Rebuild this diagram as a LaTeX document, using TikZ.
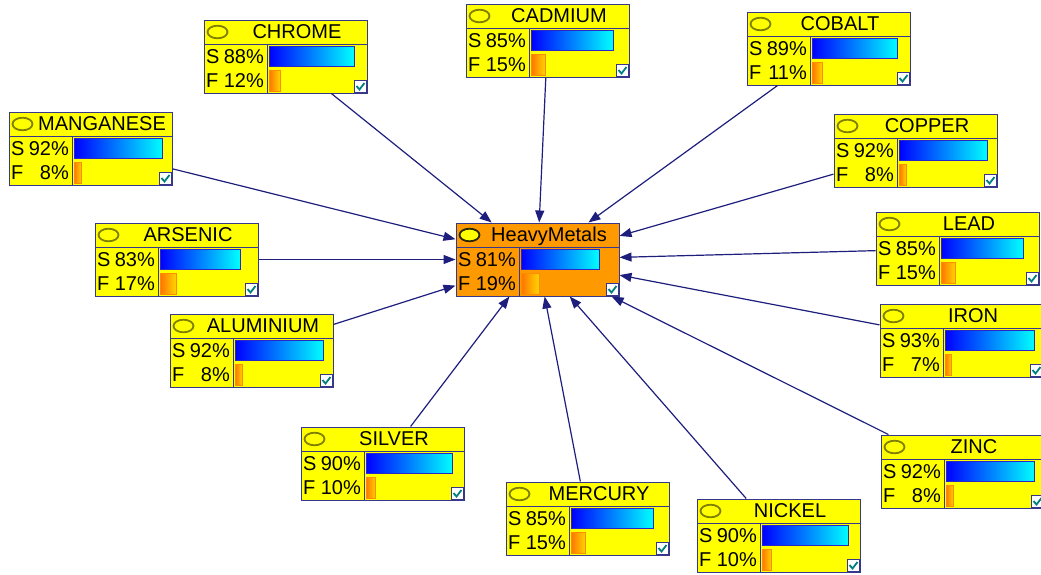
\documentclass[tikz,border=0pt]{standalone}
\usepackage{fontspec}
\setmainfont{Liberation Sans}
\usetikzlibrary{arrows.meta,calc}
\definecolor{navyl}{RGB}{30,30,125}
\definecolor{bord}{RGB}{55,55,140}
\definecolor{hmfill}{RGB}{255,153,0}
\definecolor{ylw}{RGB}{255,255,0}
\definecolor{olv}{RGB}{128,128,0}
\definecolor{fbl}{RGB}{255,115,0}
\definecolor{fbr}{RGB}{255,215,0}
\definecolor{sbb}{RGB}{40,40,200}
\definecolor{fbb}{RGB}{255,140,0}
\definecolor{chk}{RGB}{0,128,128}
\tikzset{
  box/.style={draw=bord, line width=1pt, rectangle, minimum width=163pt, minimum height=73pt, inner sep=0pt},
  arr/.style={draw=navyl, line width=1.2pt, -{Triangle[length=12pt,width=9pt]}},
  lbl/.style={inner sep=0pt, text=black},
}
\newcommand\bnode[8]{%
  \begin{scope}[shift={(#2,#3)}]
    \node[box,fill=#7] (#1) at (81.5,36.5) {};
    \draw[bord, line width=1pt] (0,24) -- (163,24) (63,24) -- (63,73);
    \draw[#8, fill=ylw, line width=1.8pt] (13.5,12) ellipse (10 and 6.3);
    \node[lbl, anchor=base] at (93,18.5) {#4};
    \node[lbl, anchor=base west] at (2,43) {S};
    \node[lbl, anchor=base east] at (60,43) {#5\%};
    \node[lbl, anchor=base west] at (2,67.5) {F};
    \node[lbl, anchor=base east] at (60,67.5) {#6\%};
    \pgfmathsetmacro\sw{65+0.965*#5}
    \pgfmathsetmacro\fw{65+0.965*#6}
    \shade[left color=blue, right color=cyan] (65,26) rectangle (\sw,46);
    \draw[sbb, line width=0.8pt] (65,26) rectangle (\sw,46);
    \shade[left color=fbl, right color=fbr] (65,50) rectangle (\fw,71);
    \draw[fbb, line width=0.8pt] (65,50) rectangle (\fw,71);
    \draw[bord, fill=white, line width=1pt] (150,60.5) rectangle (162.5,72.5);
    \draw[chk, line width=1.8pt] (152.5,66) -- (155.5,69.5) -- (160.5,63);
  \end{scope}}
\begin{document}
\begin{tikzpicture}[x=1pt, y=-1pt, font=\fontsize{20}{22}\selectfont]
\useasboundingbox (0,0) rectangle (1041,574);
\fill[white] (0,0) rectangle (1041,574);
\clip (0,0) rectangle (1041,574);
\bnode{chrome}{204}{20}{CHROME}{88}{12}{ylw}{olv}
\bnode{cadmium}{466}{4}{CADMIUM}{85}{15}{ylw}{olv}
\bnode{cobalt}{747}{12}{COBALT}{89}{11}{ylw}{olv}
\bnode{manganese}{9}{112}{MANGANESE}{92}{8}{ylw}{olv}
\bnode{copper}{834}{114}{COPPER}{92}{8}{ylw}{olv}
\bnode{arsenic}{95}{223}{ARSENIC}{83}{17}{ylw}{olv}
\bnode{hm}{456}{223}{HeavyMetals}{81}{19}{hmfill}{black!70!olv}
\bnode{lead}{876}{212}{LEAD}{85}{15}{ylw}{olv}
\bnode{aluminium}{170}{314}{ALUMINIUM}{92}{8}{ylw}{olv}
\bnode{iron}{880}{304}{IRON}{93}{7}{ylw}{olv}
\bnode{silver}{301}{427}{SILVER}{90}{10}{ylw}{olv}
\bnode{zinc}{881}{435}{ZINC}{92}{8}{ylw}{olv}
\bnode{mercury}{506}{482}{MERCURY}{85}{15}{ylw}{olv}
\bnode{nickel}{697}{499}{NICKEL}{90}{10}{ylw}{olv}
\foreach \n in {chrome,cadmium,cobalt,manganese,copper,arsenic,lead,aluminium,iron,silver,zinc,mercury,nickel}
  \draw[arr] (\n) -- (hm);
\end{tikzpicture}
\end{document}
